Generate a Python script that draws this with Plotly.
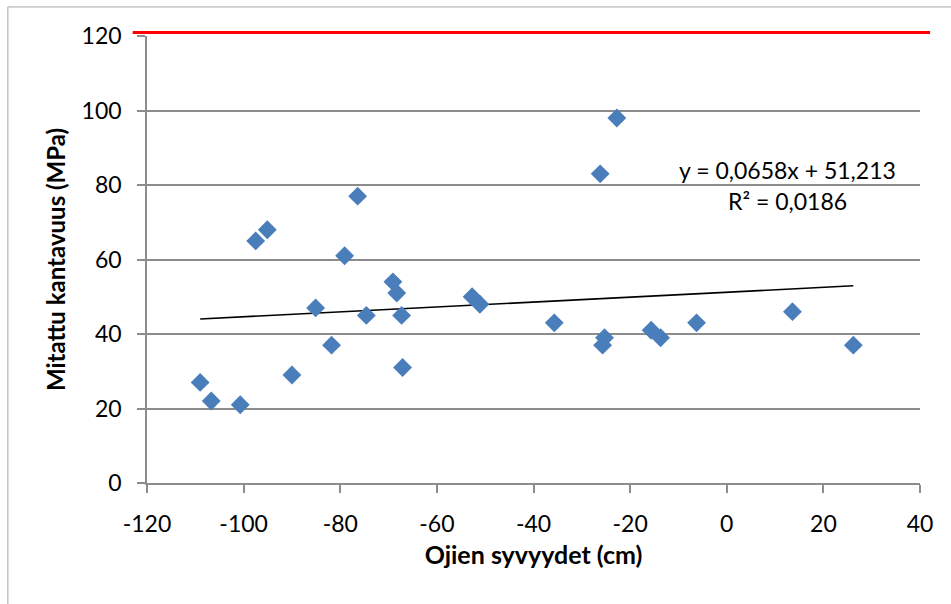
import plotly.graph_objects as go

# Ditch depth (cm) and measured bearing capacity (MPa)
depth_cm = [-109, -106.7, -100.7, -90, -81.8, -85.1, -74.6, -67.3, -67.1,
            -97.5, -95.1, -76.4, -79.1, -69.1, -68.3, -22.75, -26.2,
            -52.7, -51.1, -35.7, -25.3, -25.7, -15.65, -13.7, -6.25,
            13.6, 26.2]
capacity_mpa = [27, 22, 21, 29, 37, 47, 45, 45, 31,
                65, 68, 77, 61, 54, 51, 98, 83,
                50, 48, 43, 39, 37, 41, 39, 43,
                46, 37]

# Linear trend (least squares), as printed on the chart
slope = 0.0658
intercept = 51.213
r_squared = 0.0186

x_ticks = [-120, -100, -80, -60, -40, -20, 0, 20, 40]
y_ticks = [0, 20, 40, 60, 80, 100, 120]

FONT = "Lato"
GRID = "#8c8c8c"

trend_x = [min(depth_cm), max(depth_cm)]
trend_y = [slope * v + intercept for v in trend_x]

fig = go.Figure()
fig.add_trace(go.Scatter(
    x=trend_x, y=trend_y, mode="lines",
    line=dict(color="black", width=1.6),
    hoverinfo="skip", showlegend=False,
))
fig.add_trace(go.Scatter(
    x=depth_cm, y=capacity_mpa, mode="markers",
    marker=dict(symbol="diamond", size=14.5, color="#4a7ebb",
                line=dict(width=0)),
    showlegend=False,
))

eq_text = f"y = {slope:.4f}x + {intercept:.3f}".replace(".", ",")
r2_text = f"R² = {r_squared:.4f}".replace(".", ",")

fig.add_annotation(xref="paper", yref="y", x=0.829, y=83.9, text=eq_text,
                   xanchor="center", yanchor="middle", showarrow=False,
                   font=dict(family=FONT, size=23, color="black"))
fig.add_annotation(xref="paper", yref="y", x=0.829, y=75.6, text=r2_text,
                   xanchor="center", yanchor="middle", showarrow=False,
                   font=dict(family=FONT, size=23, color="black"))

# Red limit line along the top of the chart
fig.add_shape(type="line", xref="paper", yref="paper",
              x0=-0.0185, x1=1.013, y0=1.0076, y1=1.0076,
              line=dict(color="#ff0000", width=3))
# Chart area frame
fig.add_shape(type="rect", xref="paper", yref="paper",
              x0=-0.18, x1=1.2, y0=-0.5, y1=1.065,
              line=dict(color="#a6a6a6", width=1), fillcolor="rgba(0,0,0,0)",
              layer="below")

fig.update_layout(
    width=951, height=604,
    margin=dict(l=147, r=31, t=36, b=121),
    paper_bgcolor="white", plot_bgcolor="white",
    font=dict(family=FONT, color="black"),
    showlegend=False,
)
fig.update_xaxes(
    range=[-120, 40], tickvals=x_ticks, ticktext=[str(v) for v in x_ticks],
    showgrid=False, zeroline=False,
    showline=True, linecolor=GRID, linewidth=1.5,
    ticks="outside", ticklen=8, tickcolor=GRID, tickwidth=1.5,
    ticklabelstandoff=12,
    tickfont=dict(family=FONT, size=23, color="black"),
    title=dict(text="<b>Ojien syvyydet (cm)</b>", standoff=10,
               font=dict(family=FONT, size=25, color="black")),
)
fig.update_yaxes(
    range=[0, 120], tickvals=y_ticks,
    showgrid=True, gridcolor=GRID, gridwidth=1.5, zeroline=False,
    showline=True, linecolor=GRID, linewidth=1.5,
    ticks="outside", ticklen=8, tickcolor=GRID, tickwidth=1.5,
    ticklabelstandoff=11,
    tickfont=dict(family=FONT, size=23, color="black"),
    title=dict(text="<b>Mitattu kantavuus (MPa)</b>", standoff=9,
               font=dict(family=FONT, size=24, color="black")),
)

fig.write_html("out.html")
